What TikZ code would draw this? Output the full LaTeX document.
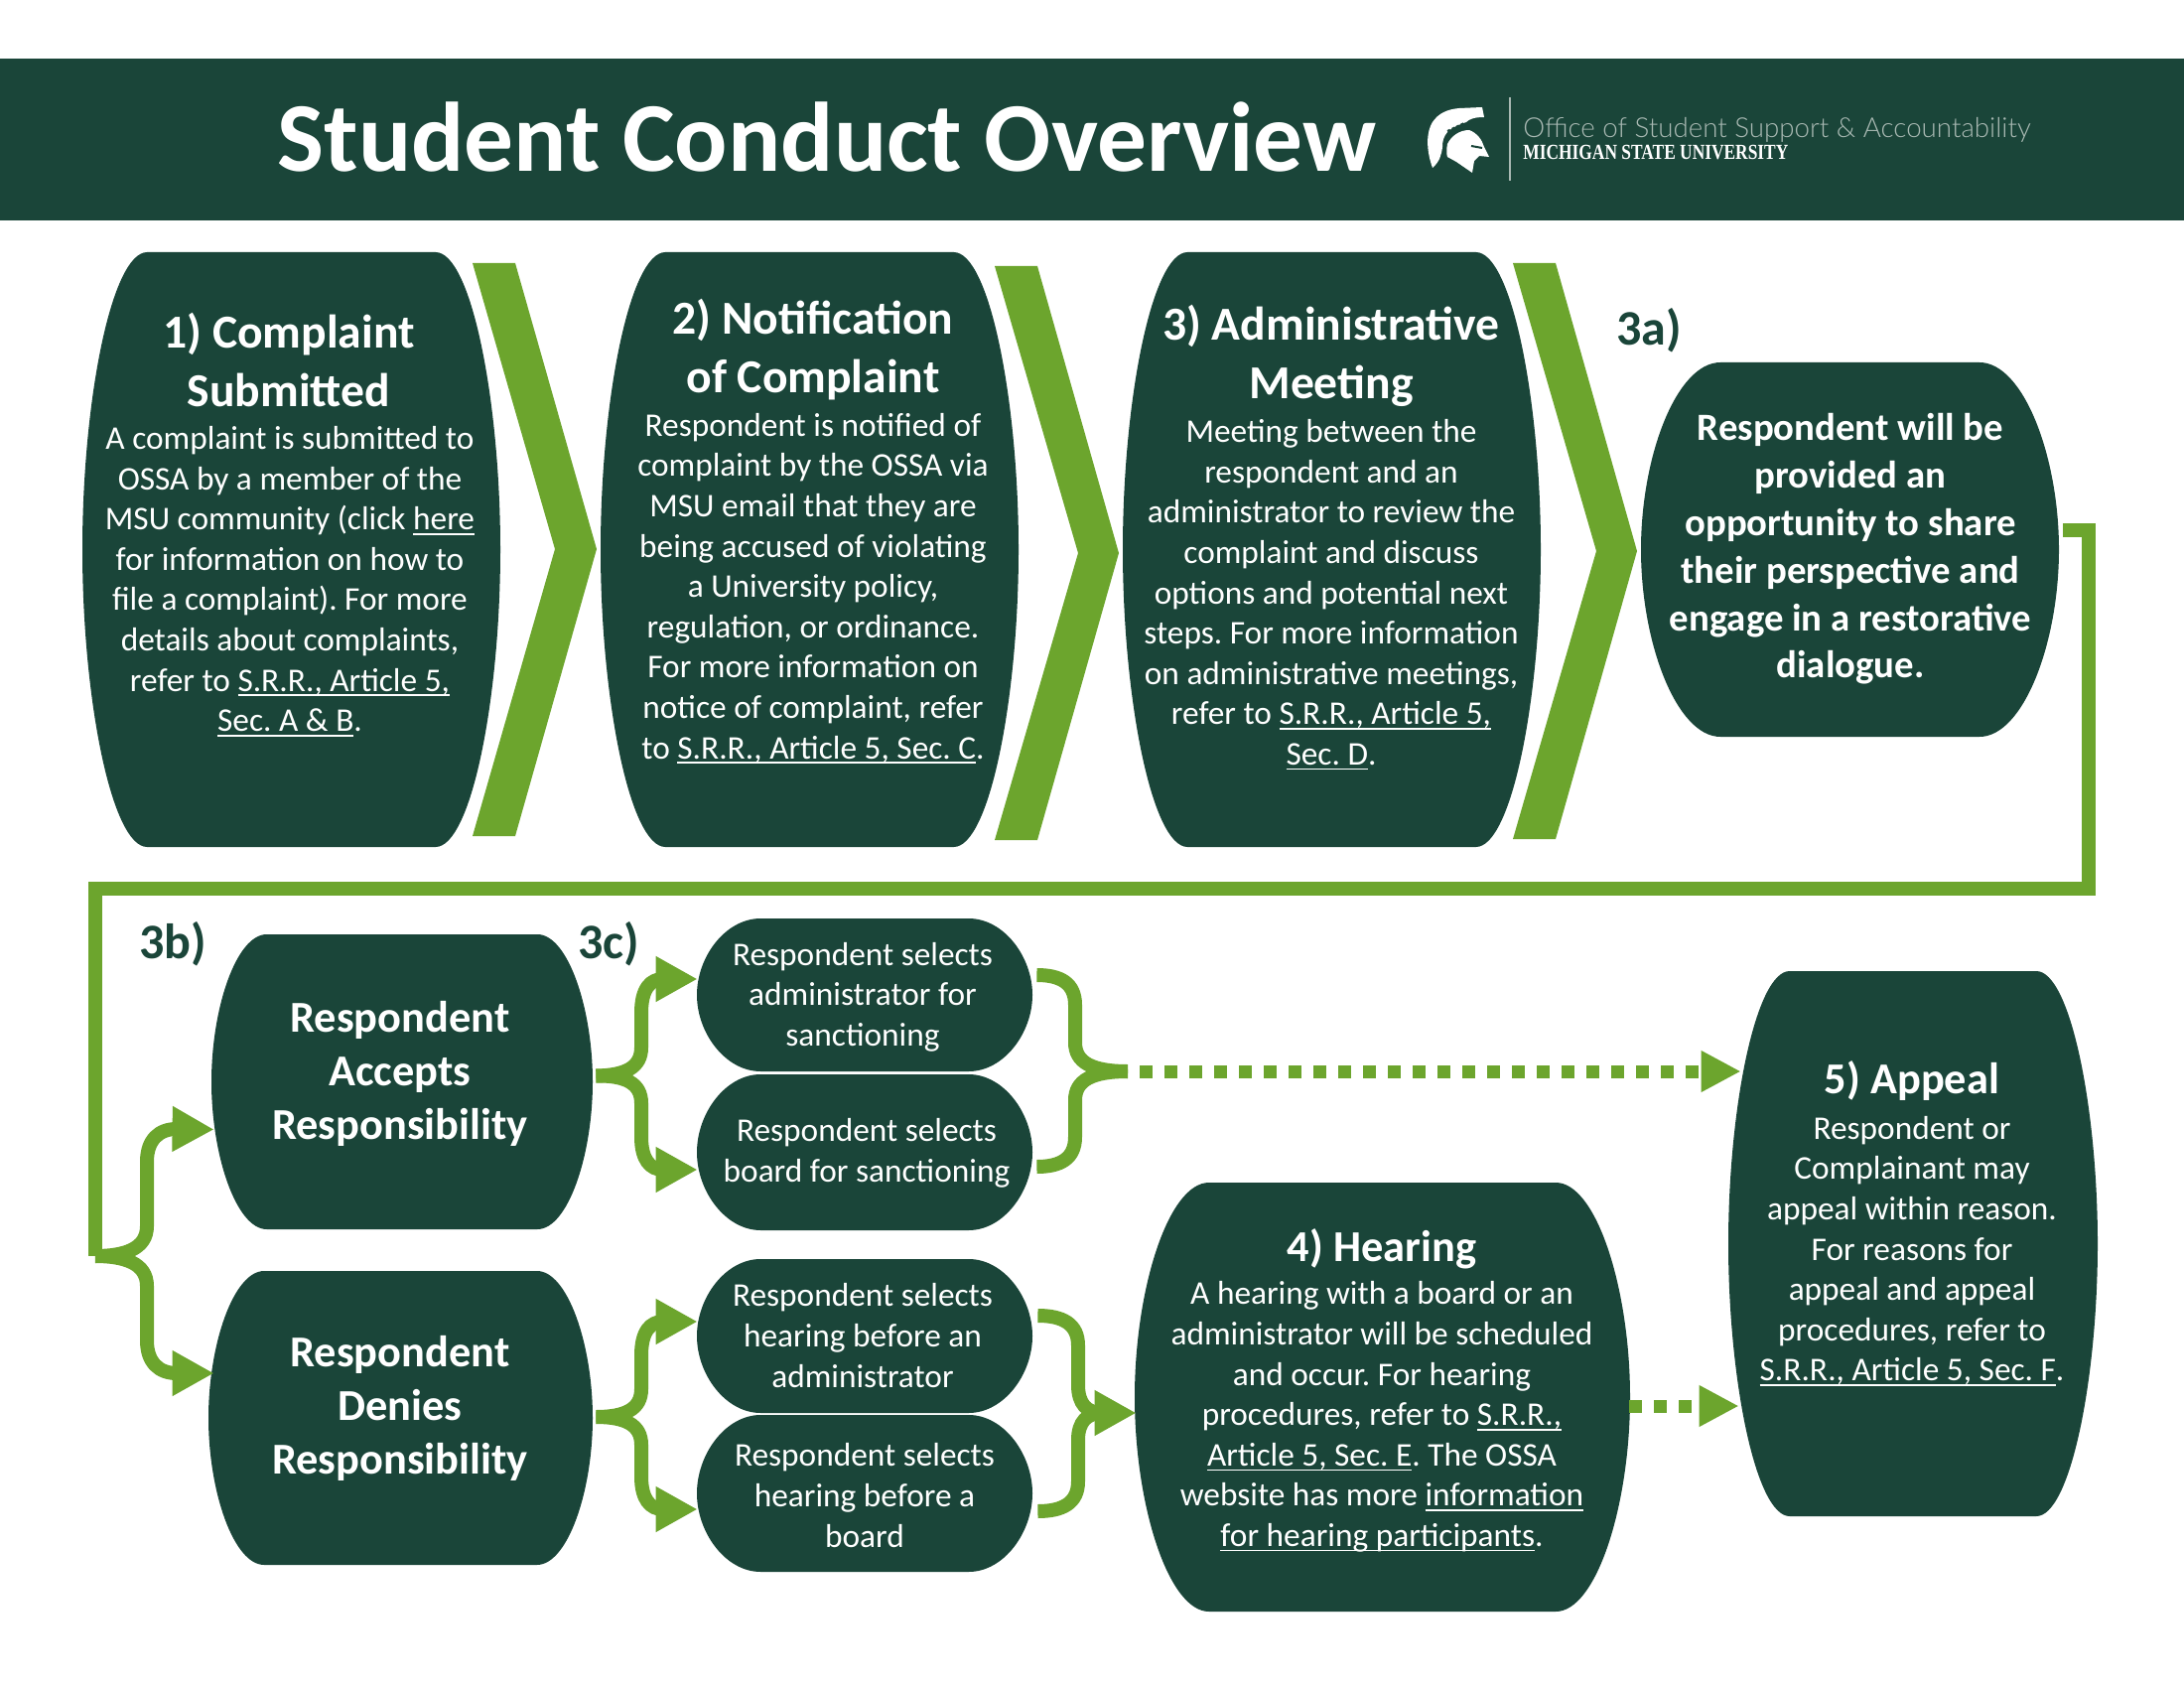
\documentclass[tikz,border=0pt]{standalone}
\usepackage{fontspec}
\usepackage{graphicx}
\setmainfont{Carlito}
\newfontfamily\logofont{Lato Light}
\newfontfamily\msufont{Liberation Serif}
\usetikzlibrary{arrows.meta,calc}
\definecolor{dk}{HTML}{1A4539}
\definecolor{lg}{HTML}{6CA52D}
\definecolor{lgray}{HTML}{A9B9B3}
\newcommand\ullx[1]{\leavevmode\setbox0\hbox{#1}\rlap{\rule[-2.4pt]{\wd0}{0.8pt}}\box0}
\newcommand\barrel[6]{%
  \pgfmathsetmacro\bw{#4-#2}\pgfmathsetmacro\bh{#5-#3}%
  \pgfmathsetmacro\bi{#6*\bw}\pgfmathsetmacro\bj{0.45*\bi}%
  \pgfmathsetmacro\xa{#2+\bi}\pgfmathsetmacro\xb{#4-\bi}%
  \pgfmathsetmacro\xc{#2+\bj}\pgfmathsetmacro\xd{#4-\bj}%
  \pgfmathsetmacro\ya{#3+0.25*\bh}\pgfmathsetmacro\yb{#5-0.25*\bh}%
  \pgfmathsetmacro\xm{(#2+#4)/2}\pgfmathsetmacro\ym{(#3+#5)/2}%
  \fill[dk] (\xa,#3) -- (\xb,#3) .. controls (\xd,#3) and (#4,\ya) .. (#4,\ym)
    .. controls (#4,\yb) and (\xd,#5) .. (\xb,#5) -- (\xa,#5)
    .. controls (\xc,#5) and (#2,\yb) .. (#2,\ym)
    .. controls (#2,\ya) and (\xc,#3) .. (\xa,#3) -- cycle;
  \node[inner sep=0pt,minimum width=\bw*0.5pt,minimum height=\bh*0.5pt] (#1) at (\xm,\ym) {};
}
\tikzset{
  body/.style={text=white,align=center,inner sep=0pt,font=\fontsize{16.67}{20.3}\selectfont\frenchspacing},
  head/.style={text=white,align=center,inner sep=0pt,font=\fontsize{23.8}{29.5}\selectfont\bfseries},
  bold3a/.style={text=white,align=center,inner sep=0pt,font=\fontsize{19.4}{23.9}\selectfont\bfseries},
  resp/.style={text=white,align=center,inner sep=0pt,font=\fontsize{22.2}{27}\selectfont\bfseries},
  lab/.style={text=dk,inner sep=0pt,font=\fontsize{25}{29}\selectfont\bfseries},
  gline/.style={draw=lg,line width=7pt,miter limit=10},
  gtip/.style={-{Triangle[length=21pt,width=21.5pt]}},
  dline/.style={draw=lg,line width=6.5pt,-{Triangle[length=20pt,width=19.5pt]}}
}
\begin{document}
\begin{tikzpicture}[x=0.5pt,y=-0.5pt]
\useasboundingbox (0,0) rectangle (2200,1700);
\fill[white] (0,0) rectangle (2200,1700);
% header
\fill[dk] (0,59) rectangle (2200,222);
\node[text=white,inner sep=0pt,font=\fontsize{49.7}{52}\selectfont\bfseries] (title) at (833,138) {Student Conduct Overview};
% logo
\fill[white] (1443,169) .. controls (1436,150) and (1437,132) .. (1443,123)
  .. controls (1449,114) and (1458,110) .. (1470,109) -- (1493,108) -- (1495,118)
  .. controls (1485,118) and (1480,120) .. (1477,123) .. controls (1468,126) and (1462,129) .. (1458,133)
  .. controls (1454,138) and (1453,142) .. (1453,148) .. controls (1452,156) and (1450,163) .. (1443,169) -- cycle;
\draw[dk,line width=1pt,dash pattern=on 1.5pt off 1pt] (1458,132) -- (1475,124);
\fill[white] (1480,131) .. controls (1470,131) and (1462,137) .. (1458,145)
  .. controls (1457,150) and (1457,155) .. (1458,158) -- (1467,163) -- (1483,174)
  -- (1485,162) -- (1490,157) -- (1500,158) -- (1495,148) .. controls (1493,141) and (1488,134) .. (1480,131) -- cycle;
\draw[dk,line width=1pt] (1482,147) -- (1493,149);
\coordinate (divT) at (1521,98);
\coordinate (divB) at (1521,182);
\draw[lgray,line width=1pt] (divT) -- (divB);
\node[anchor=west,text=lgray,inner sep=0pt,font=\fontsize{13.85}{16}\logofont] (office) at (1534,131) {Office of Student Support \& Accountability};
\node[anchor=west,text=white,inner sep=0pt,font=\fontsize{10.8}{12}\msufont\bfseries] (msu) at (1534,154) {\scalebox{0.805}[1]{MICHIGAN STATE UNIVERSITY}};
% chevrons
\fill[lg] (476,265) -- (519,265) -- (601,553) -- (519,842) -- (476,842) -- (559,553) -- cycle;
\fill[lg] (1002,268) -- (1045,268) -- (1127,557) -- (1045,846) -- (1002,846) -- (1086,557) -- cycle;
\fill[lg] (1524,265) -- (1567,265) -- (1649,555) -- (1567,845) -- (1524,845) -- (1608,555) -- cycle;
% boxes
\barrel{b1}{83}{254}{504}{853}{0.155}
\barrel{b2}{605}{254}{1026}{853}{0.155}
\barrel{b3}{1131}{254}{1552}{853}{0.155}
\barrel{b3a}{1653}{365}{2074}{742}{0.19}
\barrel{acc}{213}{941}{597}{1238}{0.145}
\barrel{den}{210}{1280}{597}{1576}{0.145}
\barrel{sA}{702}{925}{1040}{1079}{0.19}
\barrel{sB}{702}{1082}{1040}{1239}{0.19}
\barrel{sC}{702}{1268}{1040}{1423}{0.19}
\barrel{sD}{702}{1425}{1040}{1583}{0.19}
\barrel{h4}{1143}{1191}{1642}{1623}{0.15}
\barrel{apl}{1741}{978}{2113}{1527}{0.166}
% long connector
\coordinate (fk) at (96,1265);
\draw[gline,miter limit=10] ([shift={(4,-19.5)}]b3a.east) -- (2104,534) -- (2104,895) -- (96,895) -- (fk);
% left fork
\draw[gline,gtip] (fk) .. controls (125,1265) and (148,1258) .. (148,1235) -- (148,1170)
  .. controls (148,1148) and (160,1137) .. (178,1137) -- ([shift={(3,48)}]acc.west);
\draw[gline,gtip] (fk) .. controls (125,1265) and (148,1272) .. (148,1295) -- (148,1350)
  .. controls (148,1372) and (160,1383) .. (178,1383) -- ([shift={(6,-45)}]den.west);
% 3c forks
\coordinate (f1) at ([shift={(3,-6)}]acc.east);
\draw[gline,gtip] (f1) .. controls (630,1083) and (646,1075) .. (646,1055) -- (646,1020)
  .. controls (646,996) and (655,986) .. (668,986) -- ([shift={(1,-16)}]sA.west);
\draw[gline,gtip] (f1) .. controls (630,1083) and (646,1091) .. (646,1111) -- (646,1145)
  .. controls (646,1168) and (655,1178) .. (668,1178) -- ([shift={(1,17.5)}]sB.west);
\coordinate (f2) at ([shift={(3,-1)}]den.east);
\draw[gline,gtip] (f2) .. controls (630,1427) and (646,1419) .. (646,1399) -- (646,1365)
  .. controls (646,1341) and (655,1331) .. (668,1331) -- ([shift={(1,-14.5)}]sC.west);
\draw[gline,gtip] (f2) .. controls (630,1427) and (646,1435) .. (646,1455) -- (646,1487)
  .. controls (646,1510) and (655,1520) .. (668,1520) -- ([shift={(1,16)}]sD.west);
% right braces
\coordinate (m1) at (1136,1079);
\draw[gline] ([shift={(4,-20)}]sA.east) .. controls (1068,982) and (1083,990) .. (1083,1012) -- (1083,1050)
  .. controls (1083,1070) and (1100,1079) .. (m1);
\draw[gline] ([shift={(4,14.5)}]sB.east) .. controls (1068,1175) and (1083,1167) .. (1083,1145) -- (1083,1108)
  .. controls (1083,1088) and (1100,1079) .. (m1);
\coordinate (d1) at (1148,1079);
\draw[dline,dash pattern=on 6.25pt off 6.25pt] (d1) -- ([shift={(13,-173.5)}]apl.west);
\draw[gline] ([shift={(5,-20.5)}]sC.east) .. controls (1070,1325) and (1086,1333) .. (1086,1355) -- (1086,1395)
  .. controls (1086,1414) and (1095,1423) .. (1110,1423);
\draw[gline,gtip] ([shift={(5,18)}]sD.east) .. controls (1070,1522) and (1086,1514) .. (1086,1492) -- (1086,1450)
  .. controls (1086,1432) and (1095,1423) .. (1110,1423) -- ([shift={(2,16)}]h4.west);
\draw[dline,dash pattern=on 6.5pt off 6pt] ([shift={(-1,9)}]h4.east) -- ([shift={(11,163.5)}]apl.west);
% labels
\node[lab] (l3a) at (1661,333) {3a)};
\node[lab] (l3b) at (174,951) {3b)};
\node[lab] (l3c) at (613,951) {3c)};
% texts
\node[head] (t1h) at (291,363) {1) Complaint\\Submitted};
\node[body] (t1) at (292,585.5) {A complaint is submitted to\\OSSA by a member of the\\MSU community (click \ullx{here}\\for information on how to\\file a complaint). For more\\details about complaints,\\refer to \ullx{S.R.R., Article 5,}\\\ullx{Sec. A \& B}.};
\node[head] (t2h) at (819,352) {2) Notification\\of Complaint};
\node[body] (t2) at (819,592.5) {Respondent is notified of\\complaint by the OSSA via\\MSU email that they are\\being accused of violating\\a University policy,\\regulation, or ordinance.\\For more information on\\notice of complaint, refer\\to \ullx{S.R.R., Article 5, Sec. C}.};
\node[head] (t3h) at (1341,358) {3) Administrative\\Meeting};
\node[body] (t3) at (1341,599) {Meeting between the\\respondent and an\\administrator to review the\\complaint and discuss\\options and potential next\\steps. For more information\\on administrative meetings,\\refer to \ullx{S.R.R., Article 5,}\\\ullx{Sec. D}.};
\node[bold3a] (t3a) at (1864,553) {Respondent will be\\provided an\\opportunity to share\\their perspective and\\engage in a restorative\\dialogue.};
\node[resp] (tacc) at (403,1081) {Respondent\\Accepts\\Responsibility};
\node[resp] (tden) at (403,1418) {Respondent\\Denies\\Responsibility};
\node[body] (tA) at (869,1004) {Respondent selects\\administrator for\\sanctioning};
\node[body] (tB) at (873,1161) {Respondent selects\\board for sanctioning};
\node[body] (tC) at (869,1345) {Respondent selects\\hearing before an\\administrator};
\node[body] (tD) at (871,1506) {Respondent selects\\hearing before a\\board};
\node[resp] (t4h) at (1392,1258) {4) Hearing};
\node[body] (t4) at (1392,1427) {A hearing with a board or an\\administrator will be scheduled\\and occur. For hearing\\procedures, refer to \ullx{S.R.R.,}\\\ullx{Article 5, Sec. E}. The OSSA\\website has more \ullx{information}\\\ullx{for hearing participants}.};
\node[resp] (t5h) at (1926,1089) {5) Appeal};
\node[body] (t5) at (1926,1260) {Respondent or\\Complainant may\\appeal within reason.\\For reasons for\\appeal and appeal\\procedures, refer to\\\ullx{S.R.R., Article 5, Sec. F}.};
\end{tikzpicture}
\end{document}
